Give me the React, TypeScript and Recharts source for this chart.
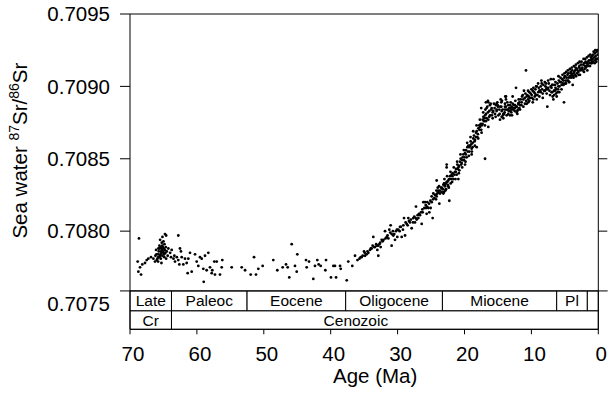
import React from 'react';
import { ScatterChart, Scatter, XAxis, YAxis, ReferenceArea, ReferenceLine, Label } from 'recharts';

const FONT = '"Liberation Sans", Arial, Helvetica, sans-serif';

// [age (Ma), 87Sr/86Sr]
const lateCretaceous: [number, number][] = [
  [68.66, 0.70795], [68.85, 0.70779], [68.5, 0.70775], [68.75, 0.70772], [68.35, 0.7077], [68.16, 0.70777],
  [67.76, 0.70778], [67.5, 0.7078], [67.26, 0.70781], [66.86, 0.70782], [66.5, 0.70781], [66.26, 0.70779],
  [66.0, 0.7078], [65.77, 0.70782], [65.5, 0.70783], [65.36, 0.70786], [65.26, 0.70788], [65.17, 0.7079],
  [65.0, 0.70785], [64.87, 0.70782], [64.77, 0.70787], [64.77, 0.70798], [64.5, 0.70786], [64.6, 0.70797],
  [64.37, 0.70783], [64.27, 0.70788], [64.0, 0.70785], [63.87, 0.70782],
  [65.9, 0.70781], [65.8, 0.70784], [65.7, 0.70786], [65.6, 0.70782], [65.55, 0.70788], [65.45, 0.70784],
  [65.4, 0.70781], [65.3, 0.70785], [65.2, 0.70787], [65.15, 0.70783], [65.1, 0.70789], [65.05, 0.70786],
  [64.95, 0.70788], [64.9, 0.70784], [64.85, 0.70791], [65.25, 0.70792], [65.35, 0.70789], [65.6, 0.7079],
  [65.75, 0.70788], [66.05, 0.70784], [66.1, 0.70787], [64.7, 0.70785], [64.65, 0.70789], [65.0, 0.70793],
  [65.5, 0.70794], [65.8, 0.70779], [66.2, 0.70783], [64.6, 0.70781], [65.15, 0.70796], [65.3, 0.70778],
];

const paleocene: [number, number][] = [
  [63.77, 0.70787], [63.5, 0.70781], [63.37, 0.70783], [63.27, 0.70779], [63.0, 0.70782], [62.78, 0.7078],
  [62.78, 0.70797], [62.63, 0.70777], [62.53, 0.70788], [62.38, 0.70786], [62.27, 0.70782], [62.03, 0.70777],
  [61.78, 0.70781], [61.53, 0.70778], [61.38, 0.70771], [61.28, 0.70781], [61.03, 0.70785], [60.78, 0.70772],
  [60.28, 0.70784], [60.03, 0.70779], [59.79, 0.70776], [59.54, 0.70782], [59.28, 0.70781], [59.04, 0.70774],
  [58.98, 0.70765], [58.79, 0.70783], [58.54, 0.70773], [58.29, 0.70785], [58.04, 0.70775], [57.79, 0.70771],
  [57.7, 0.70773], [57.4, 0.70779], [57.3, 0.7077], [57.04, 0.70779], [56.55, 0.7077], [56.29, 0.70775],
  [56.2, 0.7078], [54.8, 0.70775], [53.3, 0.70775], [52.8, 0.70773],
];

const eocene: [number, number][] = [
  [51.96, 0.7077], [51.46, 0.70782], [51.17, 0.7077], [50.82, 0.70774], [50.17, 0.70776], [48.58, 0.7078],
  [47.98, 0.70773], [47.18, 0.70775], [46.68, 0.70777], [46.43, 0.70775], [46.19, 0.70768], [45.83, 0.70791],
  [45.34, 0.70776], [45.08, 0.70772], [44.99, 0.70784], [43.69, 0.7078], [43.59, 0.70775], [43.24, 0.70779],
  [42.6, 0.70767], [42.35, 0.70776], [42.0, 0.7078], [41.8, 0.70777], [41.5, 0.70776], [40.8, 0.70773],
  [40.7, 0.7078], [39.96, 0.70768], [39.6, 0.70776], [39.36, 0.70776], [39.2, 0.70768], [38.6, 0.70776],
  [38.5, 0.70774],
];

const oligocene: [number, number][] = [
  [37.6, 0.70766], [37.37, 0.70779], [36.77, 0.70776], [36.37, 0.70783], [36.0, 0.7078],
  [35.52, 0.70782], [35.22, 0.70783], [35.02, 0.70786], [34.87, 0.70783], [34.62, 0.70784], [34.37, 0.70785],
  [34.13, 0.70787], [33.88, 0.70788], [33.73, 0.7079], [33.63, 0.70796], [33.38, 0.70789], [33.13, 0.7079],
  [33.03, 0.70787], [32.88, 0.70783], [32.73, 0.70791], [32.53, 0.70789], [32.38, 0.70794], [32.23, 0.70793],
  [31.88, 0.708], [31.63, 0.70796], [31.38, 0.70795], [31.24, 0.70801], [31.04, 0.70804], [30.89, 0.70798],
  [30.89, 0.7079], [30.64, 0.70797], [30.39, 0.70794], [30.24, 0.708], [30.04, 0.70796], [29.89, 0.70801],
  [29.64, 0.70803], [29.39, 0.70796], [29.14, 0.70804], [29.04, 0.70809], [28.89, 0.70797], [28.64, 0.70805],
  [28.4, 0.70809], [28.15, 0.70806], [27.9, 0.70802], [27.65, 0.70809], [27.4, 0.70806], [27.25, 0.70817],
  [27.15, 0.70808], [26.9, 0.70809], [26.65, 0.70811], [26.4, 0.70805], [26.25, 0.70813], [26.15, 0.7082],
  [25.9, 0.7082], [25.75, 0.70816], [25.66, 0.70812], [25.56, 0.7082], [25.41, 0.70816], [25.26, 0.70813],
  [25.06, 0.70816], [24.91, 0.70824], [24.76, 0.70809], [24.66, 0.70826], [24.41, 0.70825], [24.26, 0.70822],
  [24.16, 0.70835], [24.06, 0.70826], [23.91, 0.70828], [23.76, 0.70819], [23.66, 0.70826], [23.41, 0.70827],
  [35.7, 0.70781], [35.4, 0.70782], [34.9, 0.70785], [34.5, 0.70786], [34.0, 0.70788], [33.5, 0.70789],
  [33.2, 0.70791], [32.9, 0.7079], [32.6, 0.70792], [32.1, 0.70794], [31.8, 0.70795], [31.5, 0.70797],
  [31.1, 0.70799], [30.7, 0.708], [30.5, 0.70798], [30.1, 0.70801], [29.7, 0.708], [29.5, 0.70803],
  [29.2, 0.70801], [28.8, 0.70806], [28.5, 0.70804], [28.3, 0.70807], [28.0, 0.70808], [27.7, 0.70806],
  [27.5, 0.7081], [27.3, 0.70809], [27.0, 0.70811], [26.8, 0.70812], [26.5, 0.70813], [26.3, 0.70815],
  [26.0, 0.70816], [25.8, 0.70818], [25.6, 0.70817], [25.3, 0.70819], [25.1, 0.70821], [24.9, 0.7082],
  [24.7, 0.70822], [24.5, 0.70823], [24.3, 0.70825], [24.2, 0.70828], [24.0, 0.7083], [23.8, 0.70831],
  [23.5, 0.7083], [24.16, 0.70824], [23.91, 0.70827], [23.66, 0.70828], [23.41, 0.7083],
];

const miocene: [number, number][] = [
  [23.26, 0.70829], [23.16, 0.70826], [23.06, 0.70833], [22.91, 0.70832], [22.76, 0.70829], [22.66, 0.70846],
  [22.57, 0.70834], [22.42, 0.70831], [22.27, 0.70821], [23.16, 0.70832], [23.06, 0.70827], [22.92, 0.70831],
  [22.67, 0.70834], [22.42, 0.70835], [22.17, 0.70838], [22.07, 0.70833], [21.92, 0.70839], [21.77, 0.7084],
  [21.67, 0.70836], [21.42, 0.70841], [21.27, 0.70843], [21.17, 0.70839], [21.07, 0.70846], [20.92, 0.70844],
  [20.77, 0.70842], [20.67, 0.70848], [20.57, 0.7085], [20.42, 0.70847], [20.27, 0.70851], [20.17, 0.70853],
  [20.07, 0.70849], [19.92, 0.70854], [19.77, 0.70856], [19.67, 0.70851], [19.57, 0.70858], [19.42, 0.70859],
  [19.28, 0.70855], [19.18, 0.70859], [19.08, 0.70862], [18.93, 0.70857], [18.78, 0.70861], [18.68, 0.70864],
  [18.58, 0.70866], [18.43, 0.70863], [18.28, 0.70868], [18.18, 0.70869], [18.08, 0.70865], [17.93, 0.70871],
  [17.78, 0.7087], [17.68, 0.70872], [17.58, 0.70874], [17.43, 0.70873], [17.28, 0.70877], [17.18, 0.70879],
  [17.08, 0.70876], [16.93, 0.7088], [16.88, 0.70884], [16.78, 0.70881], [16.69, 0.70878], [16.59, 0.70886],
  [16.44, 0.70889], [16.29, 0.70883], [16.19, 0.7088], [16.09, 0.70888], [15.94, 0.70885], [15.79, 0.70878],
  [15.69, 0.70883], [15.44, 0.70881], [15.29, 0.70887], [15.19, 0.70884], [15.09, 0.70889], [14.94, 0.7088],
  [14.69, 0.70886], [14.59, 0.70891], [14.44, 0.70883], [14.2, 0.70881], [13.95, 0.70886], [13.8, 0.70893],
  [13.7, 0.70884], [13.45, 0.70887], [13.2, 0.7088], [13.1, 0.70885], [12.95, 0.70884], [12.7, 0.70885],
  [12.45, 0.70887], [12.3, 0.70899], [12.2, 0.70886], [12.1, 0.70881], [11.95, 0.70888], [11.8, 0.70885],
  [16.44, 0.70872], [16.93, 0.7085], [18.18, 0.70858], [18.93, 0.70853], [19.92, 0.70846], [20.92, 0.70836],
  [22.67, 0.70844],
  [14.69, 0.70877], [14.44, 0.70879], [14.2, 0.70878], [14.1, 0.70881], [13.95, 0.70884], [13.8, 0.70891],
  [13.7, 0.7088], [13.45, 0.70881], [13.3, 0.70885], [13.2, 0.70883], [12.95, 0.70886], [12.8, 0.70893],
  [12.7, 0.70884], [12.45, 0.70885], [12.2, 0.70886], [12.1, 0.70883], [11.95, 0.70888], [11.7, 0.70887],
  [11.6, 0.70891], [11.45, 0.70889], [11.21, 0.70891], [11.11, 0.70897], [10.96, 0.70888], [10.81, 0.70911],
  [10.71, 0.70893], [10.46, 0.70889], [10.31, 0.70896], [10.21, 0.70892], [9.96, 0.70894], [9.81, 0.70897],
  [9.71, 0.70891], [9.46, 0.70895], [9.31, 0.70894], [9.21, 0.709], [8.96, 0.70896], [8.81, 0.70893],
  [8.71, 0.70897], [8.46, 0.70902], [8.31, 0.70895], [8.21, 0.70901], [7.97, 0.70897], [7.82, 0.70902],
  [7.72, 0.70895], [7.62, 0.70886], [7.47, 0.70899], [7.22, 0.70894], [7.12, 0.709], [6.97, 0.70896],
  [6.82, 0.70893], [6.72, 0.70891], [6.62, 0.70897], [6.47, 0.70901], [6.32, 0.70895],
  [23.2, 0.70829], [22.8, 0.70833], [22.5, 0.70832], [22.3, 0.70836], [22.0, 0.70836], [21.8, 0.70838],
  [21.5, 0.70839], [21.3, 0.70841], [21.0, 0.70843], [20.8, 0.70845], [20.5, 0.70846], [20.3, 0.70849],
  [20.0, 0.70851], [19.8, 0.70853], [19.5, 0.70855], [19.3, 0.70858], [19.0, 0.7086], [18.8, 0.70858],
  [18.5, 0.70862], [18.3, 0.70865], [18.0, 0.70867], [17.8, 0.70873], [17.5, 0.7087], [17.3, 0.70874],
  [17.0, 0.70878], [16.8, 0.70876], [16.5, 0.70882], [16.3, 0.70879], [16.0, 0.70884], [15.8, 0.70882],
  [15.5, 0.70885], [15.2, 0.70883], [15.0, 0.70886], [14.8, 0.70884], [14.5, 0.70886], [14.3, 0.70884],
  [14.0, 0.70882], [13.8, 0.70886], [13.5, 0.70884], [13.2, 0.70887], [13.0, 0.70882], [12.8, 0.70888],
  [12.5, 0.70883], [12.0, 0.70884], [11.8, 0.70889], [16.5, 0.7089], [15.2, 0.70888], [14.4, 0.7089],
  [13.9, 0.70893], [17.5, 0.70885], [16.8, 0.70889],
  [11.4, 0.70893], [11.0, 0.70892], [10.8, 0.7089], [10.6, 0.70894], [10.4, 0.70893], [10.1, 0.70895],
  [9.9, 0.70892], [9.6, 0.70896], [9.4, 0.70898], [9.1, 0.70894], [8.9, 0.70899], [8.6, 0.70896],
  [8.4, 0.70898], [8.1, 0.70897], [7.9, 0.709], [7.6, 0.70898], [7.4, 0.70902], [7.0, 0.70899],
  [6.8, 0.70901], [6.5, 0.70897], [6.4, 0.70899], [6.9, 0.70896], [7.8, 0.70898], [8.6, 0.709],
  [9.5, 0.70893], [10.5, 0.70891],
  [23.0, 0.70836], [22.85, 0.70828], [22.6, 0.70838], [22.35, 0.7083], [22.1, 0.70841], [21.85, 0.70834],
  [21.6, 0.70844], [21.35, 0.70836], [21.1, 0.70848], [20.85, 0.7084], [20.6, 0.70853], [20.35, 0.70844],
  [20.1, 0.70856], [19.85, 0.70848], [19.6, 0.70861], [19.35, 0.70852], [19.1, 0.70865], [18.9, 0.70855],
  [18.7, 0.70869], [18.45, 0.70859], [18.2, 0.70873], [17.95, 0.70864], [17.7, 0.70877], [17.45, 0.70868],
  [17.2, 0.70882], [16.95, 0.70873], [16.7, 0.70885], [16.45, 0.70877], [16.2, 0.70887], [15.9, 0.7088],
  [15.6, 0.70888], [15.35, 0.70879], [15.05, 0.70887], [14.75, 0.70881], [14.5, 0.70889], [14.25, 0.7088],
  [13.95, 0.70888],
  [13.6, 0.70889], [13.4, 0.70883], [13.1, 0.70889], [12.9, 0.7088], [12.6, 0.70887], [12.4, 0.7089],
  [12.2, 0.70882], [11.9, 0.70891], [11.7, 0.70884], [11.5, 0.70887], [11.3, 0.70894], [11.2, 0.70886],
  [10.9, 0.70895], [10.7, 0.70888], [10.5, 0.70897], [10.3, 0.7089], [10.0, 0.70898], [9.8, 0.70889],
  [9.7, 0.70899], [9.3, 0.709], [9.2, 0.70891], [9.0, 0.70902], [8.8, 0.70897], [8.5, 0.70904],
  [8.3, 0.70892], [8.0, 0.70903], [7.7, 0.70899], [7.5, 0.70904], [7.3, 0.70897], [7.1, 0.70905],
  [6.9, 0.70901], [6.7, 0.70905], [6.6, 0.70894], [6.4, 0.70903], [6.3, 0.70898],
];

const plioPleistocene: [number, number][] = [
  [6.22, 0.70893], [5.97, 0.709], [5.83, 0.70896], [5.73, 0.70903], [5.48, 0.70901], [5.23, 0.70904],
  [5.13, 0.70889], [4.98, 0.70907], [4.83, 0.70902], [4.73, 0.70906], [4.48, 0.70909], [4.33, 0.70903],
  [4.23, 0.70907], [4.13, 0.7091], [3.98, 0.70908], [3.83, 0.70901], [3.73, 0.70909], [3.48, 0.70911],
  [3.33, 0.70907], [3.23, 0.70912], [2.98, 0.7091], [2.83, 0.70914], [2.74, 0.70908], [2.49, 0.70912],
  [2.24, 0.70915], [2.14, 0.7091], [1.99, 0.70914], [1.74, 0.70916], [1.64, 0.70911], [1.49, 0.70917],
  [1.24, 0.70914], [1.14, 0.70918], [0.99, 0.70916], [0.85, 0.70919], [0.75, 0.70922], [0.49, 0.70923],
  [0.34, 0.70919], [0.24, 0.70924],
  [6.1, 0.70902], [5.9, 0.70904], [5.6, 0.70903], [5.4, 0.70905], [5.1, 0.70906], [4.9, 0.70904],
  [4.6, 0.70908], [4.4, 0.70906], [4.1, 0.70909], [3.9, 0.70911], [3.6, 0.7091], [3.4, 0.70913],
  [3.1, 0.70911], [2.9, 0.70913], [2.6, 0.70915], [2.4, 0.70913], [2.1, 0.70916], [1.9, 0.70917],
  [1.6, 0.70915], [1.4, 0.70918], [1.1, 0.7092], [0.9, 0.70917], [0.6, 0.7092], [0.4, 0.70921],
  [0.2, 0.70919], [0.1, 0.70922], [0.5, 0.70918], [1.0, 0.70919], [1.8, 0.70914], [2.7, 0.70911],
  [3.7, 0.70906], [4.5, 0.70904], [5.3, 0.70902], [6.0, 0.70898],
  [6.1, 0.70896], [5.95, 0.70907], [5.8, 0.709], [5.65, 0.70906], [5.5, 0.70898], [5.35, 0.70908],
  [5.2, 0.70901], [5.05, 0.70909], [4.95, 0.70902], [4.8, 0.7091], [4.65, 0.70904], [4.55, 0.70911],
  [4.4, 0.70903], [4.25, 0.70912], [4.05, 0.70906], [3.95, 0.70913], [3.8, 0.70907], [3.65, 0.70914],
  [3.5, 0.70908], [3.35, 0.70915], [3.2, 0.70909], [3.05, 0.70916], [2.95, 0.70908], [2.8, 0.70917],
  [2.65, 0.70912], [2.5, 0.70917], [2.35, 0.70911], [2.2, 0.70919], [2.05, 0.70912], [1.95, 0.70919],
  [1.85, 0.70913], [1.7, 0.7092], [1.55, 0.70914], [1.45, 0.70921], [1.3, 0.70916], [1.2, 0.70922],
  [1.05, 0.70916], [0.95, 0.70921], [0.8, 0.70917], [0.7, 0.70924], [0.55, 0.70916], [0.45, 0.70925],
  [0.3, 0.70917], [0.15, 0.70925], [0.05, 0.70919],
];

const xTicks = [0, 10, 20, 30, 40, 50, 60, 70];
const yTicks = [0.7075, 0.708, 0.7085, 0.709, 0.7095];
const rightTicks = [0.708, 0.7085, 0.709];
const yDomain: [number, number] = [0.707322, 0.7095];

// geologic time scale strip
const epochNames = ['Late', 'Paleoc', 'Eocene', 'Oligocene', 'Miocene', 'Pl', ''];
const epochBounds = [70, 63.8, 52.5, 37.76, 23.3, 6.22, 1.64, 0];
const eraNames = ['Cr', 'Cenozoic'];
const eraBounds = [70, 63.8, 0];
const stripLevels = [0.707587, 0.707449, 0.707322];

const points = [...lateCretaceous, ...paleocene, ...eocene, ...oligocene, ...miocene, ...plioPleistocene].map(
  ([age, sr]) => ({ age, sr })
);

const YTick = (props: any) => {
  const { x, y, payload } = props;
  const showLine = Math.abs(payload.value - 0.7075) > 1e-7;
  return (
    <g>
      {showLine && <line x1={x + 10} x2={x + 20} y1={y} y2={y} stroke="#000" />}
      <text x={x} y={y} dy="0.355em" textAnchor="end" fontSize={20.5} fill="#000">
        {payload.value.toFixed(4)}
      </text>
    </g>
  );
};

const YTitle = (props: any) => {
  const vb = props.viewBox || { x: 10, y: 14, width: 120, height: 315 };
  const cx = vb.x + 17;
  const cy = vb.y + vb.height / 2 - 21;
  return (
    <text x={cx} y={cy} transform={`rotate(-90, ${cx}, ${cy})`} textAnchor="middle" fontSize={20.5} fill="#000">
      Sea water <tspan fontSize={14} dy={-8}>87</tspan>
      <tspan dy={8}>Sr/</tspan>
      <tspan fontSize={14} dy={-8}>86</tspan>
      <tspan dy={8}>Sr</tspan>
    </text>
  );
};

const XTitle = (props: any) => {
  const vb = props.viewBox || { x: 130, y: 329, width: 468, height: 64 };
  return (
    <text x={vb.x + vb.width / 2 + 11} y={vb.y + 54} textAnchor="middle" fontSize={20.5} fill="#000">
      Age (Ma)
    </text>
  );
};

const Dot = (props: any) => <circle cx={props.cx} cy={props.cy} r={1.4} fill="#000" />;

export default function App() {
  const labelStyle = { position: 'center' as const, fontSize: 15.5, fill: '#000' };
  return (
    <div style={{ position: 'absolute', left: 0, top: 0, fontFamily: FONT }}>
      <ScatterChart width={614} height={393} margin={{ top: 0, right: 0, bottom: 0, left: 10 }}>
        <XAxis
          dataKey="age"
          type="number"
          domain={[0, 70]}
          reversed
          ticks={xTicks}
          allowDataOverflow
          height={63.7}
          tickSize={5}
          tickMargin={12}
          stroke="#000"
          tick={{ fill: '#000', fontSize: 20.5, dx: 3 }}
        >
          <Label content={XTitle} />
        </XAxis>
        <XAxis
          xAxisId="top"
          orientation="top"
          type="number"
          domain={[0, 70]}
          reversed
          ticks={xTicks}
          allowDataOverflow
          height={14}
          tickSize={6}
          stroke="#000"
          tickFormatter={() => ''}
        />
        <YAxis
          dataKey="sr"
          type="number"
          domain={yDomain}
          ticks={yTicks}
          allowDataOverflow
          width={120}
          tickSize={10}
          tickMargin={10}
          tickLine={false}
          stroke="#000"
          tick={<YTick />}
        >
          <Label content={YTitle} />
        </YAxis>
        <YAxis
          yAxisId="right"
          orientation="right"
          type="number"
          domain={yDomain}
          ticks={rightTicks}
          allowDataOverflow
          width={15.7}
          tickSize={9}
          stroke="#000"
          tickFormatter={() => ''}
        />
        {epochNames.map((name, i) => (
          <ReferenceArea
            key={`ep-${i}`}
            x1={epochBounds[i]}
            x2={epochBounds[i + 1]}
            y1={stripLevels[1]}
            y2={stripLevels[0]}
            fill="#fff"
            fillOpacity={1}
            stroke="#000"
            strokeWidth={1}
            ifOverflow="visible"
            label={{ value: name, ...labelStyle }}
          />
        ))}
        {eraNames.map((name, i) => (
          <ReferenceArea
            key={`era-${i}`}
            x1={eraBounds[i]}
            x2={eraBounds[i + 1]}
            y1={stripLevels[2]}
            y2={stripLevels[1]}
            fill="#fff"
            fillOpacity={1}
            stroke="#000"
            strokeWidth={1}
            ifOverflow="visible"
            label={{ value: name, ...labelStyle, dx: name === 'Cenozoic' ? -29 : 0 }}
          />
        ))}
        <ReferenceLine
          segment={[
            { x: 71.5, y: stripLevels[0] },
            { x: -1.4, y: stripLevels[0] },
          ]}
          stroke="#000"
          ifOverflow="visible"
        />
        <Scatter data={points} fill="#000" shape={Dot} isAnimationActive={false} />
      </ScatterChart>
    </div>
  );
}
